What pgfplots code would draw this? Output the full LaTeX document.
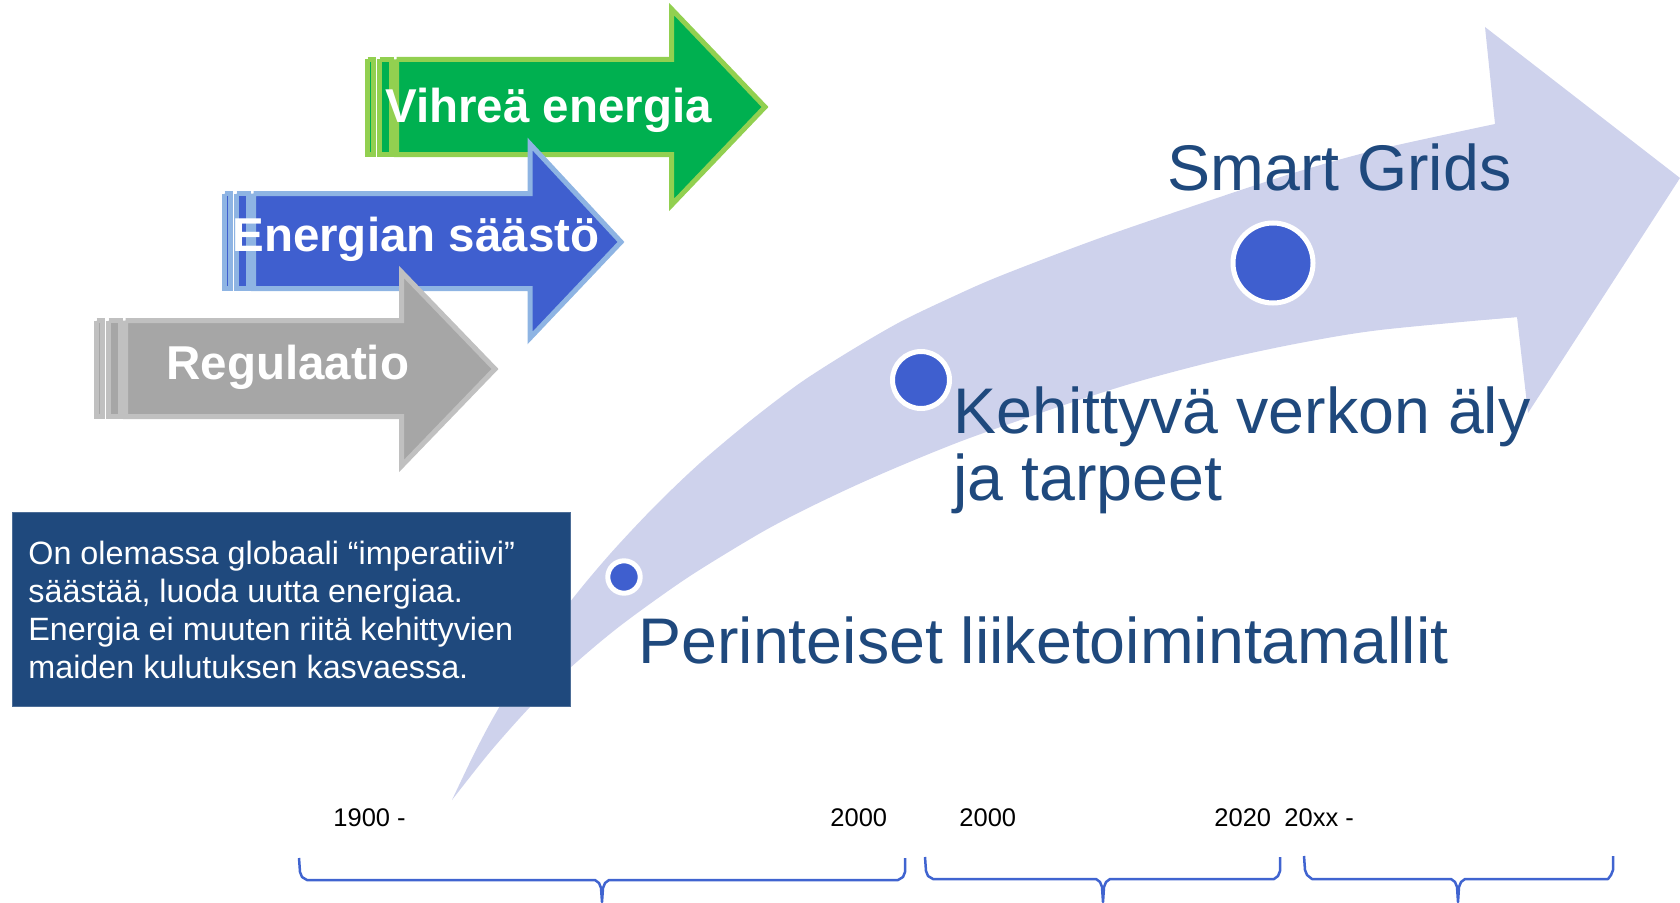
\documentclass[border=0pt]{standalone}
\usepackage{pgfplots}
\pgfplotsset{compat=1.18}
\usepgfplotslibrary{fillbetween}
\usepackage{fontspec}
\setmainfont{Liberation Sans}
\definecolor{lav}{HTML}{CED2EC}
\definecolor{boxblue}{HTML}{1F497D}
\definecolor{tblue}{HTML}{1F497D}
\definecolor{dotblue}{HTML}{3F5FCF}
\definecolor{gfill}{HTML}{00B050}
\definecolor{gline}{HTML}{92D050}
\definecolor{bfill}{HTML}{3F5FCF}
\definecolor{bline}{HTML}{8EB4E3}
\definecolor{yfill}{HTML}{A6A6A6}
\definecolor{yline}{HTML}{C0C0C0}
\definecolor{brace}{HTML}{4064D0}
\begin{document}
\begin{tikzpicture}
\begin{axis}[width=840pt, height=451pt, scale only axis,
  xmin=0, xmax=1680, ymin=0, ymax=902, y dir=reverse,
  hide axis, clip=true]
% big curved arrow: shaft edges
\addplot[name path=outer, draw=none, smooth, forget plot] coordinates {
 (452,800) (475,752) (497,711) (530,658) (570,602) (610,554) (655,506) (700,463)
 (750,421) (800,383) (850,351) (900,322) (950,298) (1000,276) (1100,238) (1220,197)
 (1300,171) (1380,149) (1495,124)};
\addplot[name path=inner, draw=none, smooth, forget plot] coordinates {
 (452,800) (490,752) (530,707) (570,668) (620,626) (687,578) (757,535) (800,512)
 (850,488) (900,466) (967,439) (1067,404) (1140,381) (1220,360) (1300,343) (1380,330)
 (1517,317)};
\addplot[fill=lav, draw=none] fill between[of=outer and inner];
% head
\addplot[fill=lav, draw=none] coordinates {(1480,140) (1495,124) (1485,27) (1680,178) (1528,413) (1517,317) (1480,320) (1480,140)};
% green arrow
\addplot[fill=gfill, draw=gline, line width=2.5pt] coordinates {(367.5,59.5) (373.5,59.5) (373.5,154.5) (367.5,154.5) (367.5,59.5)};
\addplot[fill=gfill, draw=gline, line width=2.5pt] coordinates {(379.5,59.5) (391.5,59.5) (391.5,154.5) (379.5,154.5) (379.5,59.5)};
\addplot[fill=gfill, draw=gline, line width=2.5pt] coordinates {(396.5,59.5) (671.5,59.5) (671.5,9) (765,107) (671.5,205) (671.5,154.5) (396.5,154.5) (396.5,59.5)};
\node[anchor=base west, inner sep=0pt, text=white, font=\fontsize{23.75}{28}\selectfont\bfseries] at (axis cs:385,123) {Vihreä energia};
% blue arrow
\addplot[fill=bfill, draw=bline, line width=2.5pt] coordinates {(224.5,193.5) (230.5,193.5) (230.5,288.5) (224.5,288.5) (224.5,193.5)};
\addplot[fill=bfill, draw=bline, line width=2.5pt] coordinates {(236.5,193.5) (248.5,193.5) (248.5,288.5) (236.5,288.5) (236.5,193.5)};
\addplot[fill=bfill, draw=bline, line width=2.5pt] coordinates {(253.5,193.5) (530,193.5) (530,144) (621,242) (530,338) (530,288.5) (253.5,288.5) (253.5,193.5)};
\node[anchor=base west, inner sep=0pt, text=white, font=\fontsize{23.75}{28}\selectfont\bfseries] at (axis cs:232,251) {Energian säästö};
% gray arrow
\addplot[fill=yfill, draw=yline, line width=2.5pt] coordinates {(96.5,320.5) (102.5,320.5) (102.5,416.5) (96.5,416.5) (96.5,320.5)};
\addplot[fill=yfill, draw=yline, line width=2.5pt] coordinates {(108.5,320.5) (120.5,320.5) (120.5,416.5) (108.5,416.5) (108.5,320.5)};
\addplot[fill=yfill, draw=yline, line width=2.5pt] coordinates {(125.5,320.5) (401.5,320.5) (401.5,272) (495,369) (401.5,466) (401.5,416.5) (125.5,416.5) (125.5,320.5)};
\node[anchor=base west, inner sep=0pt, text=white, font=\fontsize{23.75}{28}\selectfont\bfseries] at (axis cs:166,379) {Regulaatio};
% text box
\addplot[fill=boxblue, draw=boxblue!80!white, line width=0.5pt] coordinates {(12,512) (570,512) (570,706) (12,706) (12,512)};
\node[anchor=base west, inner sep=0pt, text=white, font=\fontsize{16.15}{19}\selectfont] at (axis cs:28,564) {On olemassa globaali “imperatiivi”};
\node[anchor=base west, inner sep=0pt, text=white, font=\fontsize{16.15}{19}\selectfont] at (axis cs:28,602) {säästää, luoda uutta energiaa.};
\node[anchor=base west, inner sep=0pt, text=white, font=\fontsize{16.15}{19}\selectfont] at (axis cs:28,640) {Energia ei muuten riitä kehittyvien};
\node[anchor=base west, inner sep=0pt, text=white, font=\fontsize{16.15}{19}\selectfont] at (axis cs:28,678) {maiden kulutuksen kasvaessa.};
% dots
\addplot[only marks, mark=*, mark size=8.1pt, mark options={fill=dotblue, draw=white, line width=2.5pt}] coordinates {(624,577)};
\addplot[only marks, mark=*, mark size=14.25pt, mark options={fill=dotblue, draw=white, line width=2.5pt}] coordinates {(921,380)};
\addplot[only marks, mark=*, mark size=20pt, mark options={fill=dotblue, draw=white, line width=2.5pt}] coordinates {(1273,263)};
% labels
\node[anchor=base west, inner sep=0pt, text=tblue, font=\fontsize{32.25}{34}\selectfont] at (axis cs:1167,190) {Smart Grids};
\node[anchor=base west, inner sep=0pt, text=tblue, font=\fontsize{32.25}{34}\selectfont] at (axis cs:953,433) {Kehittyvä verkon äly};
\node[anchor=base west, inner sep=0pt, text=tblue, font=\fontsize{32.25}{34}\selectfont] at (axis cs:953,500) {ja tarpeet};
\node[anchor=base west, inner sep=0pt, text=tblue, font=\fontsize{32.25}{34}\selectfont] at (axis cs:638,663) {Perinteiset liiketoimintamallit};
% years
\node[anchor=base west, inner sep=0pt, text=black, font=\fontsize{12.75}{15}\selectfont] at (axis cs:333,826) {1900 -};
\node[anchor=base west, inner sep=0pt, text=black, font=\fontsize{12.75}{15}\selectfont] at (axis cs:830,826) {2000};
\node[anchor=base west, inner sep=0pt, text=black, font=\fontsize{12.75}{15}\selectfont] at (axis cs:959,826) {2000};
\node[anchor=base west, inner sep=0pt, text=black, font=\fontsize{12.75}{15}\selectfont] at (axis cs:1214,826) {2020};
\node[anchor=base west, inner sep=0pt, text=black, font=\fontsize{12.75}{15}\selectfont] at (axis cs:1284,826) {20xx -};
% braces
\addplot[draw=brace, line width=1.25pt, line join=round] coordinates {(299,858) (300,872) (302,877) (307,880) (595,880) (599,883) (601,888) (602,902) (603,888) (605,883) (609,880) (898,880) (903,877) (905,872) (905,858)};
\addplot[draw=brace, line width=1.25pt, line join=round] coordinates {(925,857) (926,871) (928,876) (933,879) (1096,879) (1100,882) (1102,887) (1103,902) (1104,887) (1106,882) (1110,879) (1274,879) (1278,876) (1280,871) (1280,857)};
\addplot[draw=brace, line width=1.25pt, line join=round] coordinates {(1304,856) (1305,870) (1307,875) (1312,879) (1451,879) (1455,882) (1457,887) (1458,902) (1459,887) (1461,882) (1465,879) (1608,879) (1611,875) (1613,870) (1613,856)};
\end{axis}
\pgfresetboundingbox
\useasboundingbox (current axis.south west) rectangle (current axis.north east);
\end{tikzpicture}
\end{document}
